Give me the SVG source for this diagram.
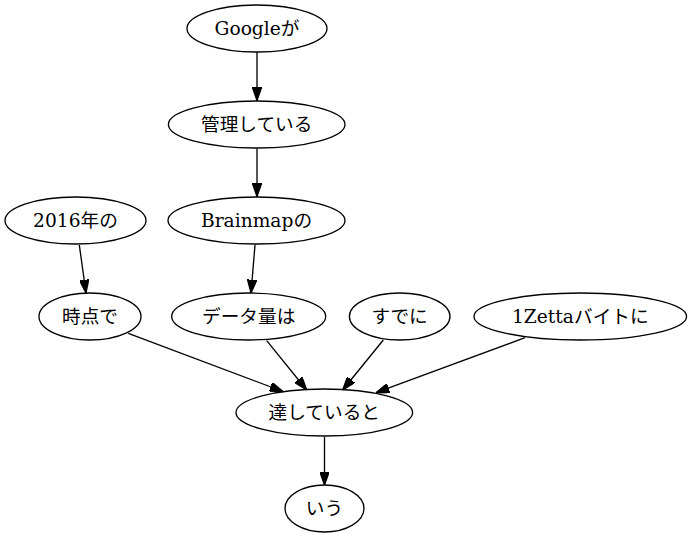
<svg xmlns="http://www.w3.org/2000/svg" width="691" height="539" viewBox="0 0 691 539">
<style>
.n ellipse{fill:none;stroke:#000;stroke-width:1.33}
.n text{font-family:"DejaVu Serif","Noto Sans CJK JP",serif;font-size:18.67px;text-anchor:middle;fill:#000}
.e path{fill:none;stroke:#000;stroke-width:1.33;marker-end:url(#ah)}
</style>
<defs>
<marker id="ah" viewBox="0 0 10 7" refX="10" refY="3.5" markerWidth="13.3" markerHeight="9.3" orient="auto" markerUnits="userSpaceOnUse">
<path d="M0,0 L10,3.5 L0,7 z" fill="#000" stroke="#000" stroke-width="1"/>
</marker>
</defs>
<rect width="691" height="539" fill="#fff"/>
<g id="edges" class="e">
<path d="M257,52 L257,100.5"/>
<path d="M257,148.5 L257,196.5"/>
<path d="M79.3,245 L86,293"/>
<path d="M255,245 L251,293"/>
<path d="M128.3,333.3 L283,391.5"/>
<path d="M266.7,340.7 L306.7,390"/>
<path d="M383.3,340 L342.7,390"/>
<path d="M525,337.7 L376,392.7"/>
<path d="M324.5,437 L324.5,485"/>
</g>
<g id="n1" class="n"><ellipse cx="257" cy="28.5" rx="70" ry="23.5"/><text x="257" y="35">Googleが</text></g>
<g id="n2" class="n"><ellipse cx="256.7" cy="124.5" rx="88.3" ry="23.5"/><text x="256.7" y="131">管理している</text></g>
<g id="n3" class="n"><ellipse cx="75.5" cy="220.5" rx="70.5" ry="23.5"/><text x="75.5" y="227">2016年の</text></g>
<g id="n4" class="n"><ellipse cx="256.5" cy="220.5" rx="88.5" ry="23.5"/><text x="256.5" y="227">Brainmapの</text></g>
<g id="n5" class="n"><ellipse cx="90" cy="316.5" rx="51" ry="23.5"/><text x="90" y="323">時点で</text></g>
<g id="n6" class="n"><ellipse cx="248.7" cy="316.5" rx="77" ry="23.5"/><text x="248.7" y="323">データ量は</text></g>
<g id="n7" class="n"><ellipse cx="399.7" cy="316.5" rx="50.3" ry="23.5"/><text x="399.7" y="323">すでに</text></g>
<g id="n8" class="n"><ellipse cx="580.3" cy="316.5" rx="106.3" ry="23.5"/><text x="580.3" y="323">1Zettaバイトに</text></g>
<g id="n9" class="n"><ellipse cx="324.3" cy="412.5" rx="88.3" ry="23.5"/><text x="324.3" y="419">達していると</text></g>
<g id="n10" class="n"><ellipse cx="324.5" cy="508.5" rx="39.5" ry="23.5"/><text x="324.5" y="515">いう</text></g>
</svg>
